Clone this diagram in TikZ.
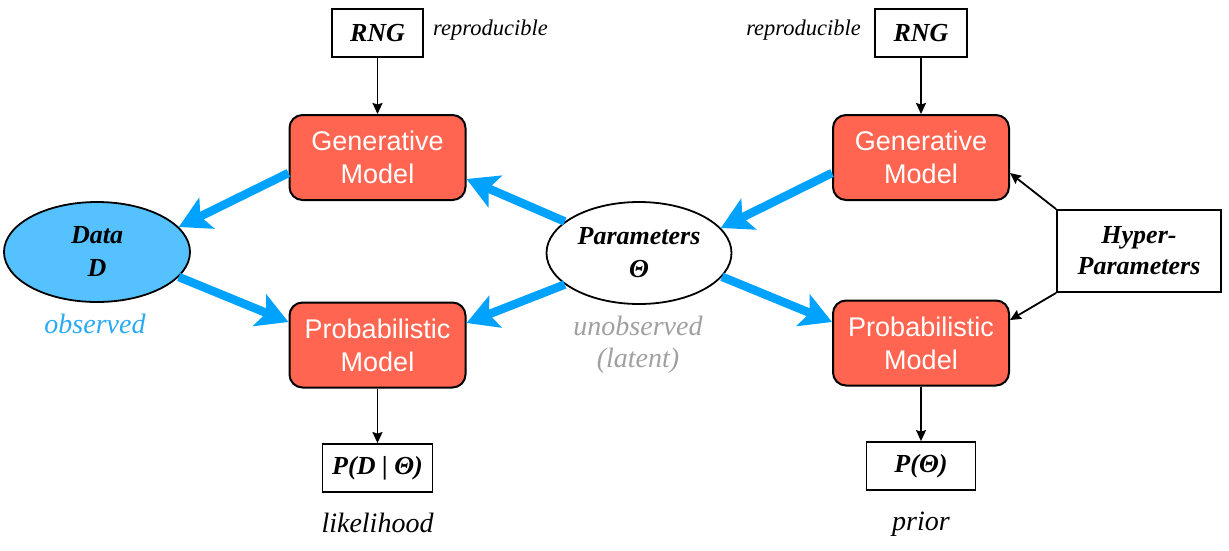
\documentclass[tikz,border=0pt]{standalone}
\usepackage{fontspec}
\setmainfont{Liberation Serif}
\newfontfamily\arialfont{Liberation Sans}
\usetikzlibrary{arrows.meta,shapes.geometric}
\definecolor{boxred}{RGB}{255,101,80}
\definecolor{arrowblue}{RGB}{0,162,255}
\definecolor{datablue}{RGB}{86,193,255}
\definecolor{obsblue}{RGB}{40,170,245}
\definecolor{latgray}{RGB}{160,160,160}
\begin{document}
\begin{tikzpicture}[x=1pt,y=-1pt,
 model/.style={draw=black, line width=2pt, fill=boxred, rounded corners=13pt, minimum width=176pt, minimum height=85pt, inner sep=0pt, align=center, text=white, font={\arialfont\fontsize{27}{33}\selectfont}},
 txtbox/.style={draw=black, line width=1.8pt, inner sep=0pt, align=center, font={\bfseries\itshape\fontsize{26}{31}\selectfont}},
 ell/.style={ellipse, draw=black, line width=1.8pt, inner sep=0pt, align=center, font={\bfseries\itshape\fontsize{26}{33}\selectfont}},
 lbl/.style={inner sep=0pt, align=center, font={\itshape\fontsize{28}{32}\selectfont}},
 smalllbl/.style={inner sep=0pt, font={\itshape\fontsize{22.5}{26}\selectfont}},
 bigarrow/.style={arrowblue, line width=8.5pt, -{Stealth[length=31pt,width=34pt,inset=7pt]}},
 thinarrow/.style={black, line width=1.8pt, -{Stealth[length=11pt,width=10pt,inset=1.5pt]}}
]
\useasboundingbox (0,0) rectangle (1229,550);
% nodes
\node[txtbox, minimum width=91pt, minimum height=48pt] (rngl) at (377.5,33) {RNG};
\node[txtbox, minimum width=92pt, minimum height=48pt] (rngr) at (921,33) {RNG};
\node[model] (gl) at (377.5,157.5) {Generative\\Model};
\node[model] (gr) at (921,157.5) {Generative\\Model};
\node[model] (pl) at (377.5,345) {Probabilistic\\Model};
\node[model] (pr) at (921,343) {Probabilistic\\Model};
\node[ell, fill=datablue, minimum width=186pt, minimum height=100pt] (data) at (97,252) {Data\\D};
\node[ell, fill=white, minimum width=185pt, minimum height=102pt] (par) at (639,253) {Parameters\\Θ};
\node[txtbox, minimum width=164pt, minimum height=82pt] (hyp) at (1139,251) {Hyper-\\Parameters};
\node[txtbox, minimum width=110pt, minimum height=48pt] (pdl) at (377.5,468) {P(D | Θ)};
\node[txtbox, minimum width=109pt, minimum height=48pt] (ppr) at (921,466) {P(Θ)};
% labels
\node[smalllbl, anchor=base west] (repl) at (433,35) {reproducible};
\node[smalllbl, anchor=base east] (repr) at (861,35) {reproducible};
\node[lbl, text=obsblue, anchor=base] (obs) at (95,333) {observed};
\node[lbl, text=latgray] (unobs) at (638,344.5) {unobserved\\(latent)};
\node[lbl, anchor=base] (lik) at (377.5,532) {likelihood};
\node[lbl, anchor=base] (pri) at (921,530) {prior};
% thin arrows
\draw[thinarrow] (rngl.south) -- (gl.north);
\draw[thinarrow] (rngr.south) -- (gr.north);
\draw[thinarrow] (pl.south) -- (pdl.north);
\draw[thinarrow] (pr.south) -- (ppr.north);
\draw[thinarrow] (hyp.north west) -- ([yshift=-15.5pt]gr.east);
\draw[thinarrow] (hyp.south west) -- ([yshift=23pt]pr.east);
% blue arrows
\draw[bigarrow] ([yshift=-15.5pt]gl.west) -- (data.17);
\draw[bigarrow] (data.-17) -- ([yshift=23pt]pl.west);
\draw[bigarrow] (par.157) -- ([yshift=-21.5pt]gl.east);
\draw[bigarrow] (par.203) -- ([yshift=22pt]pl.east);
\draw[bigarrow] ([yshift=-15.5pt]gr.west) -- (par.17);
\draw[bigarrow] (par.-16) -- ([yshift=21pt]pr.west);
\end{tikzpicture}
\end{document}
